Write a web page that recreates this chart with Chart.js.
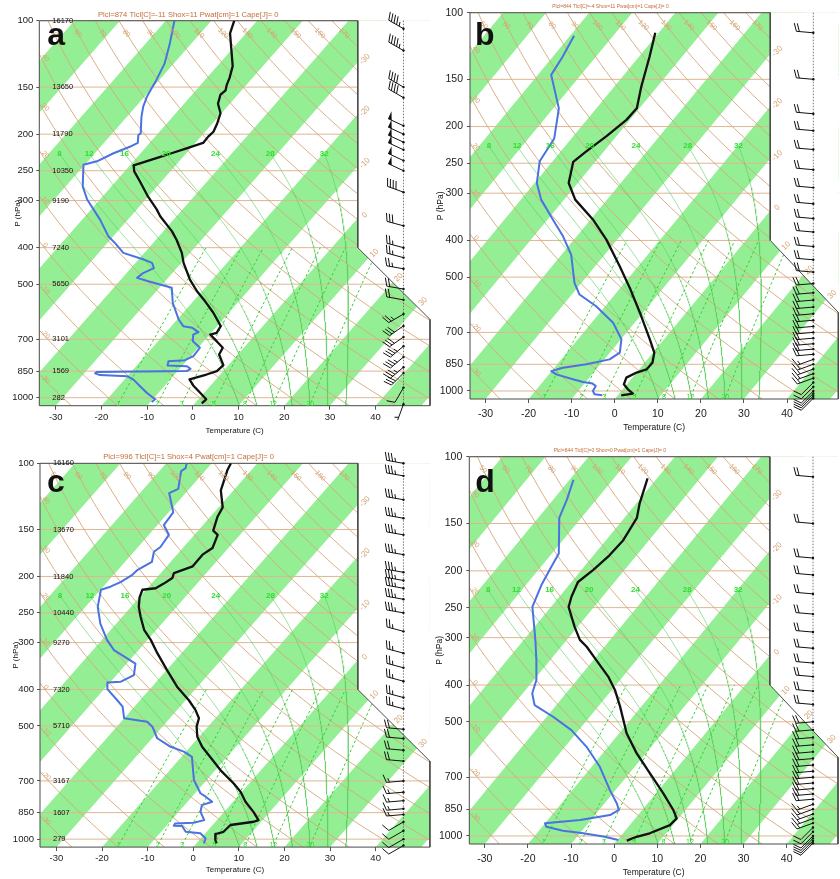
<!DOCTYPE html>
<html>
<head>
<meta charset="utf-8">
<title>Skew-T soundings</title>
<script src="https://cdn.jsdelivr.net/npm/chart.js@4.4.1/dist/chart.umd.min.js"></script>
<style>
  body { margin: 0; background: #fff; }
  #wrap { position: relative; width: 840px; height: 879px; overflow: hidden; background: #fff; }
  #wrap canvas { position: absolute; }
</style>
</head>
<body>
<div id="wrap">
  <canvas id="skewA" width="440" height="440" style="left:0;top:0"></canvas>
  <canvas id="skewB" width="420" height="440" style="left:420px;top:0"></canvas>
  <canvas id="skewC" width="440" height="439" style="left:0;top:440px"></canvas>
  <canvas id="skewD" width="420" height="439" style="left:420px;top:440px"></canvas>
</div>
<script>
// sounding a
var presTempA = [100,108,132,142,148,153,157,166,176,187,197,203,211,218,224,231,239,242,251,267,293,317,330,362,381,413,439,486,522,555,595,646,673,680,708,737,768,820,850,868,894,928,970,1010,1035];
var tempA = [-65.0,-63.5,-56.6,-55.0,-54.3,-53.5,-53.8,-52.6,-50.2,-49.0,-48.2,-48.4,-48.3,-50.9,-53.0,-55.5,-58.2,-59.2,-57.9,-54.7,-50.0,-45.6,-43.6,-38.1,-35.5,-31.8,-29.5,-24.9,-21.1,-17.4,-13.4,-9.2,-8.8,-9.9,-7.2,-4.6,-4.1,-1.1,-1.4,-3.0,-5.8,-3.8,-0.9,1.7,1.5];
var presDewA = [100,115,130,144,151,159,169,180,199,201,211,216,225,236,241,275,298,337,373,389,413,430,439,453,467,481,491,511,560,620,646,652,670,680,708,737,776,795,800,821,825,838,850,855,862,871,877,894,932,970,1010,1027];
var dewA = [-78.1,-74.7,-72.0,-70.6,-70.1,-69.5,-68.4,-66.8,-63.8,-64.0,-62.6,-63.6,-66.0,-68.0,-70.3,-66.3,-62.8,-56.1,-51.1,-48.3,-44.6,-38.9,-36.4,-35.0,-36.4,-36.8,-33.7,-27.3,-24.2,-19.7,-17.4,-15.2,-12.9,-13.6,-12.4,-9.6,-9.4,-10.5,-13.9,-13.3,-8.9,-7.6,-8.0,-27.5,-27.6,-26.2,-20.1,-18.1,-15.3,-12.6,-9.5,-9.7];

// sounding b
var presTempB = [113,131,157,179,192,212,233,248,282,312,352,398,468,534,621,730,792,842,877,894,922,960,990,1016,1027];
var tempB = [-60.8,-57.5,-53.7,-50.6,-50.8,-52.3,-54.1,-55.1,-52.1,-47.4,-39.5,-32.5,-24.3,-17.8,-10.7,-3.3,0.3,1.8,1.7,0.0,-1.4,-0.7,1.2,3.2,0.8];
var presDewB = [115,131,146,179,215,247,282,312,352,390,436,518,556,597,660,730,792,825,850,868,886,904,931,947,956,970,1000,1020,1027];
var dewB = [-79.1,-77.7,-76.9,-68.7,-64.0,-63.0,-59.5,-55.3,-48.8,-43.2,-37.8,-31.6,-28.2,-22.1,-15.0,-9.9,-7.7,-8.8,-13.2,-18.0,-20.1,-18.3,-13.5,-10.6,-8.1,-6.9,-6.6,-5.6,-3.6];

// sounding c
var presTempC = [100,104,118,131,139,151,155,168,175,188,196,202,209,215,217,227,241,256,278,295,320,355,393,427,453,477,502,534,568,597,655,711,748,795,846,890,899,917,956,969,1006,1026];
var tempC = [-65.8,-65.3,-62.8,-59.1,-58.4,-56.7,-54.9,-53.5,-54.4,-54.3,-57.1,-56.5,-57.3,-58.2,-60.8,-60.0,-58.3,-56.0,-52.6,-49.3,-45.3,-39.9,-34.5,-29.3,-26.0,-23.6,-22.5,-20.4,-17.4,-14.4,-8.9,-3.4,-0.3,2.7,6.4,9.1,8.4,3.9,3.7,2.4,3.5,4.4];
var presDewC = [100,103,105,117,120,135,146,155,167,172,183,192,198,207,213,217,241,267,295,314,341,366,381,383,399,427,444,477,487,502,539,568,585,604,696,755,771,795,812,846,890,905,908,921,923,956,965,995,1026];
var dewC = [-75.5,-74.8,-75.2,-72.4,-73.6,-69.0,-68.6,-65.6,-65.1,-65.6,-64.1,-65.7,-65.9,-67.1,-68.4,-69.9,-67.3,-63.5,-58.9,-55.4,-48.1,-46.2,-47.8,-50.6,-49.3,-45.0,-42.6,-40.0,-34.3,-32.2,-28.9,-24.3,-20.5,-17.7,-12.8,-8.8,-7.0,-4.6,-6.2,-5.2,-2.8,-4.6,-8.5,-8.4,-6.5,-4.6,-1.1,1.0,1.6];

// sounding d
var presTempD = [114,133,145,166,182,199,214,234,249,281,304,317,344,380,412,456,536,606,684,772,854,899,936,984,1005,1029];
var tempD = [-62.2,-59.2,-57.1,-56.0,-56.3,-57.3,-58.5,-57.2,-55.9,-50.7,-47.0,-44.1,-39.3,-33.4,-29.3,-24.9,-18.3,-12.1,-5.2,1.7,7.2,9.6,9.3,6.2,3.8,2.3];
var presDewD = [115,130,145,180,195,218,249,306,344,388,421,452,485,526,582,657,757,820,854,881,908,926,946,969,984,1005,1025];
var dewD = [-79.1,-76.8,-75.1,-68.4,-67.6,-66.4,-64.3,-57.1,-53.2,-49.4,-47.8,-45.0,-38.5,-31.7,-25.0,-18.1,-11.3,-7.2,-5.4,-6.5,-12.5,-20.0,-19.0,-14.4,-9.2,-3.6,0.2];

// geopotential heights (m) at the mandatory levels
var heightLevels = [100, 150, 200, 250, 300, 400, 500, 700, 850, 1000];
var heightsA = [16170, 13650, 11790, 10350, 9190, 7240, 5650, 3101, 1569, 282];
var heightsC = [16160, 13670, 11840, 10440, 9270, 7320, 5710, 3167, 1607, 279];

// winds: pressure (hPa), direction (deg), speed (kt)
var barbPresA = [105,120,150,160,190,200,210,220,235,250,285,350,400,425,455,515,550,600,645,690,730,780,830,860,940,1040];
var barbDirA = [300,300,300,300,295,295,295,295,295,295,290,285,285,285,280,280,280,240,235,235,230,230,230,225,210,200];
var barbSpdA = [45,45,40,40,50,50,50,50,50,50,40,30,25,25,25,20,20,25,30,30,35,35,35,30,10,5];
var barbPresB = [113,150,185,205,230,260,290,320,350,380,415,450,485,520,550,575,600,625,650,675,700,725,750,775,800,825,850,875,900,925,950,975,1000,1015,1030,1045];
var barbDirB = [275,275,275,275,275,275,275,275,275,275,275,275,275,265,265,265,265,265,265,265,265,265,265,265,265,250,250,250,250,250,225,225,225,225,225,225];
var barbSpdB = [20,20,20,20,20,20,20,20,20,20,20,20,20,20,20,20,20,20,20,20,20,20,20,20,20,15,15,15,15,15,10,10,10,10,10,10];
var barbPresC = [100,108,125,140,155,175,195,205,215,230,250,280,320,350,380,420,450,510,540,580,620,700,750,790,830,860,900,950,1000,1040];
var barbDirC = [280,280,280,280,280,280,280,280,280,280,280,285,285,285,285,285,285,275,275,275,275,265,265,265,265,265,240,240,240,240];
var barbSpdC = [35,35,35,35,35,35,35,35,35,35,35,25,25,25,25,25,25,20,20,20,20,15,15,15,15,15,10,10,10,10];
var barbPresD = [113,150,185,205,230,260,290,320,350,380,415,450,500,525,550,575,600,625,650,675,700,725,750,775,800,825,850,875,900,925,950,975,1000,1015,1030,1045];
var barbDirD = [275,275,275,275,275,275,275,275,275,275,275,275,265,265,265,265,265,265,265,265,265,265,265,265,265,250,250,250,250,250,225,225,225,225,225,225];
var barbSpdD = [20,20,20,20,20,20,20,20,20,20,20,20,20,20,20,20,20,20,20,20,20,20,20,20,20,15,15,15,15,15,10,10,10,10,10,10];

var titleA = 'Plcl=874 Tlcl[C]=-11 Shox=11 Pwat[cm]=1 Cape[J]= 0';
var titleB = 'Plcl=844 Tlcl[C]=-4 Shox=11 Pwat[cm]=1 Cape[J]= 0';
var titleC = 'Plcl=996 Tlcl[C]=1 Shox=4 Pwat[cm]=1 Cape[J]= 0';
var titleD = 'Plcl=844 Tlcl[C]=0 Shox=0 Pwat[cm]=1 Cape[J]= 0';

// diagram furniture
var ISOBARS = [100, 150, 200, 250, 300, 400, 500, 700, 850, 1000];
var X_TICKS = [-30, -20, -10, 0, 10, 20, 30, 40];
var THETA_W = [8, 12, 16, 20, 24, 28, 32];
var MIX_RATIOS = [1, 2, 3, 5, 8, 12, 20];
var THETAS = [];
for (var th = -40; th <= 200; th += 10) THETAS.push(th);

var PBOT = 1050, PTOP = 100, SKEW = 31.5;
var X_MIN = -33.6, X_MAX = 51.9, X_EDGE = 36.1, P_EDGE = 400, P_CORNER = 620, BARB_X = 46.1;
var FONT = '"Liberation Sans", Arial, sans-serif';

var BAND_GREEN = '#94ef94';
var TAN = 'rgb(212,168,124)';
var ISOBAR_TAN = 'rgb(222,182,145)';
var MOIST_GREEN = 'rgba(90,205,90,0.75)';
var MIX_GREEN = '#33cc33';

Chart.defaults.font.family = FONT;

function skewX(t, p) { return t + SKEW * Math.log(PBOT / p); }

function dryT(theta, p) { return (theta + 273.15) * Math.pow(p / 1000, 0.2857) - 273.15; }

function dewFromMix(w, p) {
  var e = w * p / (622 + w), l = Math.log(e / 6.112);
  return 243.5 * l / (17.67 - l);
}

function moistRate(t, p) {
  var tk = t + 273.15;
  var es = 6.112 * Math.exp(17.67 * t / (t + 243.5));
  var rs = 0.622 * es / (p - es);
  return (287 * tk + 2.5e6 * rs) / (p * (1004 + 2.5e6 * 2.5e6 * rs * 0.622 / (287 * tk * tk)));
}

// saturated adiabat starting at 1000 hPa, integrated up to 225 hPa and down past the ground
function moistLine(thw) {
  var pts = [], t = thw, p, k;
  for (p = 1000; p > 225; p -= 5) {
    pts.push({p: p, t: t});
    k = moistRate(t - 2.5 * moistRate(t, p), p - 2.5);
    t -= 5 * k;
  }
  pts.push({p: 225, t: t});
  pts.reverse();
  t = thw;
  for (p = 1000; p < 1060; p += 5) {
    k = moistRate(t + 2.5 * moistRate(t, p), p + 2.5);
    t += 5 * k;
    pts.push({p: p + 5, t: t});
  }
  return pts;
}
var moistLines = THETA_W.map(moistLine);

function line(pts, opts) {
  var ds = {data: pts.map(function (q) { return {x: q[0], y: q[1]}; }), showLine: true, pointRadius: 0, tension: 0, fill: false};
  return Object.assign(ds, opts);
}

function profile(pres, vals) {
  return pres.map(function (p, i) { return [skewX(vals[i], p), p]; });
}

function buildDatasets(tp, tv, dp, dv) {
  var sets = [], t, i;
  // alternating 10 C isotherm bands
  for (t = -100; t <= 40; t += 20) {
    sets.push(line([[skewX(t, 1100), 1100], [skewX(t, 90), 90], [skewX(t + 10, 90), 90], [skewX(t + 10, 1100), 1100]],
      {fill: 'shape', backgroundColor: BAND_GREEN, borderWidth: 0, order: 20}));
  }
  ISOBARS.forEach(function (p) {
    sets.push(line([[-60, p], [80, p]], {borderColor: ISOBAR_TAN, borderWidth: 1, order: 19}));
  });
  var plist = [];
  for (i = 0; i <= 40; i++) plist.push(PTOP * Math.pow(PBOT / PTOP, i / 40));
  THETAS.forEach(function (thv) {
    sets.push(line(plist.map(function (p) { return [skewX(dryT(thv, p), p), p]; }),
      {borderColor: TAN, borderWidth: 0.9, order: 18}));
  });
  moistLines.forEach(function (ml) {
    sets.push(line(ml.map(function (q) { return [skewX(q.t, q.p), q.p]; }),
      {borderColor: MOIST_GREEN, borderWidth: 0.8, order: 17}));
  });
  MIX_RATIOS.forEach(function (w) {
    var pts = [];
    for (var p = 1060; p >= 400; p -= 20) pts.push([skewX(dewFromMix(w, p), p), p]);
    sets.push(line(pts, {borderColor: MIX_GREEN, borderWidth: 1, borderDash: [2.5, 2.5], order: 16}));
  });
  // blank out the wind column above the sloping corner
  sets.push(line([[X_EDGE, 90], [X_EDGE, P_EDGE], [X_MAX, P_CORNER], [X_MAX + 5, P_CORNER], [X_MAX + 5, 90]],
    {fill: 'shape', backgroundColor: '#fff', borderWidth: 0, order: 6}));
  sets.push(line([[X_MIN, PTOP], [X_EDGE, PTOP], [X_EDGE, P_EDGE], [X_MAX, P_CORNER], [X_MAX, PBOT], [X_MIN, PBOT], [X_MIN, PTOP]],
    {borderColor: '#4a4a4a', borderWidth: 1, clip: false, order: 5}));
  sets.push(line(profile(dp, dv), {borderColor: '#4a72e0', borderWidth: 2, borderJoinStyle: 'round', order: 2}));
  sets.push(line(profile(tp, tv), {borderColor: '#111', borderWidth: 2.3, borderJoinStyle: 'round', order: 1}));
  return sets;
}

function drawBarb(ctx, x, y, dir, spd) {
  var r = dir * Math.PI / 180, len = 17, fl = 8;
  var ux = Math.sin(r), uy = -Math.cos(r);
  var vx = Math.sin(r + Math.PI / 2), vy = -Math.cos(r + Math.PI / 2);
  var tx = x + ux * len, ty = y + uy * len, d = 0, s = Math.round(spd / 5) * 5;
  ctx.beginPath(); ctx.moveTo(x, y); ctx.lineTo(tx, ty); ctx.stroke();
  ctx.beginPath(); ctx.arc(x, y, 1.2, 0, 2 * Math.PI); ctx.fill();
  function feather(l) {
    var bx = tx - ux * d, by = ty - uy * d;
    ctx.beginPath(); ctx.moveTo(bx, by);
    ctx.lineTo(bx + vx * l + ux * l * 0.35, by + vy * l + uy * l * 0.35);
    ctx.stroke();
  }
  while (s >= 50) {
    ctx.beginPath();
    ctx.moveTo(tx - ux * d, ty - uy * d);
    ctx.lineTo(tx - ux * d + vx * fl, ty - uy * d + vy * fl);
    ctx.lineTo(tx - ux * (d + 4), ty - uy * (d + 4));
    ctx.closePath(); ctx.fill();
    d += 5; s -= 50;
  }
  while (s >= 10) { feather(fl); d += 3; s -= 10; }
  if (s >= 5) { if (d === 0) d = 3; feather(fl / 2); }
}

var decor = {
  id: 'decor',
  afterDatasetsDraw: function (chart, args, o) {
    var ctx = chart.ctx, sx = chart.scales.x, sy = chart.scales.y, a = chart.chartArea;
    var X = function (v) { return sx.getPixelForValue(v); };
    var Y = function (p) { return sy.getPixelForValue(p); };
    function label(x, y, txt, rot) {
      ctx.save(); ctx.translate(x, y); ctx.rotate(rot); ctx.fillText(txt, 0, 0); ctx.restore();
    }
    ctx.save();
    ctx.textAlign = 'center';
    ctx.textBaseline = 'middle';

    // saturated adiabat labels
    ctx.fillStyle = '#2edc2e';
    ctx.font = 'bold 8px ' + FONT;
    moistLines.forEach(function (ml, i) {
      ctx.fillText(String(THETA_W[i]), X(skewX(ml[0].t, ml[0].p)), Y(ml[0].p));
    });

    // mixing ratio labels near the ground
    ctx.font = '7px ' + FONT;
    MIX_RATIOS.forEach(function (w) {
      ctx.fillText(String(w), X(skewX(dewFromMix(w, 1040), 1040)), Y(1040));
    });

    // dry adiabat labels on the top and left edges
    ctx.fillStyle = 'rgb(214,160,110)';
    ctx.font = '7px ' + FONT;
    THETAS.forEach(function (thv) {
      if (skewX(dryT(thv, PTOP), PTOP) > X_MIN) {
        var xv = skewX(dryT(thv, 108), 108);
        if (xv < X_EDGE - 1.5 && xv > X_MIN + 1) label(X(xv), Y(108), String(thv), Math.PI / 4);
        return;
      }
      if (skewX(dryT(thv, PBOT), PBOT) < X_MIN) return;
      var lo = PTOP, hi = PBOT;
      for (var k = 0; k < 30; k++) {
        var mid = Math.sqrt(lo * hi);
        if (skewX(dryT(thv, mid), mid) < X_MIN) lo = mid; else hi = mid;
      }
      if (hi < 1000) label(a.left + 6, Y(hi) + 4, String(thv), Math.PI / 4);
    });

    // isotherm labels along the right edge
    ctx.font = '8px ' + FONT;
    [-30, -20, -10, 0].forEach(function (t) {
      var p = PBOT / Math.exp((X_EDGE - t) / SKEW);
      label(X(X_EDGE) + 7, Y(p) - 3, String(t), -Math.PI / 4);
    });
    var x0 = X(X_EDGE), y0 = Y(P_EDGE), x1 = X(X_MAX), y1 = Y(P_CORNER);
    [10, 20, 30].forEach(function (t) {
      var lo = 0, hi = 1;
      for (var k = 0; k < 30; k++) {
        var f = (lo + hi) / 2, yy = y0 + (y1 - y0) * f;
        var diff = X(skewX(t, sy.getValueForPixel(yy))) - (x0 + (x1 - x0) * f);
        if (diff > 0) lo = f; else hi = f;
      }
      label(x0 + (x1 - x0) * lo + 6, y0 + (y1 - y0) * lo - 5, String(t), -Math.PI / 4);
    });

    // heights of the mandatory levels
    if (o.heights) {
      ctx.fillStyle = '#111';
      ctx.font = '7.5px ' + FONT;
      ctx.textAlign = 'left';
      heightLevels.forEach(function (p, i) { ctx.fillText(String(o.heights[i]), a.left + 13, Y(p)); });
    }

    // wind column
    var bx = X(BARB_X);
    ctx.strokeStyle = '#555';
    ctx.lineWidth = 0.8;
    ctx.setLineDash([1.5, 1.5]);
    ctx.beginPath(); ctx.moveTo(bx, Y(PTOP)); ctx.lineTo(bx, Y(PBOT)); ctx.stroke();
    ctx.setLineDash([]);
    ctx.strokeStyle = '#111';
    ctx.fillStyle = '#111';
    ctx.lineWidth = 1;
    o.barbPres.forEach(function (p, i) { drawBarb(ctx, bx, Y(p), o.barbDir[i], o.barbSpd[i]); });

    // parcel summary above the frame
    ctx.textAlign = 'center';
    ctx.fillStyle = '#c46c3a';
    ctx.font = o.titleSize + 'px ' + FONT;
    ctx.fillText(o.title, X(-1), a.top - 6);

    // axis titles
    ctx.fillStyle = '#111';
    ctx.font = o.axisSize + 'px ' + FONT;
    ctx.fillText('Temperature (C)', (a.left + a.right) / 2, a.bottom + o.xTitleGap);
    label(o.yTitleX, (a.top + a.bottom) / 2, 'P (hPa)', -Math.PI / 2);

    // panel letter
    ctx.textAlign = 'left';
    ctx.textBaseline = 'alphabetic';
    ctx.font = 'bold 32px ' + FONT;
    ctx.fillText(o.letter, a.left + o.letterDx, a.top + o.letterDy);
    ctx.restore();
  }
};

var panels = [
  {id: 'skewA', w: 440, h: 440, area: {l: 39.3, t: 20.7, r: 430, b: 405.7}, tick: 9.5, xPad: 2, yPad: 3,
   tp: presTempA, tv: tempA, dp: presDewA, dv: dewA, heights: heightsA, title: titleA, titleSize: 7.6,
   barbPres: barbPresA, barbDir: barbDirA, barbSpd: barbSpdA, letter: 'a', letterDx: 8, letterDy: 24,
   axisSize: 8, xTitleGap: 25, yTitleX: 18},
  {id: 'skewB', w: 420, h: 440, area: {l: 50, t: 12.7, r: 418.3, b: 399}, tick: 10.5, xPad: 5, yPad: 4,
   tp: presTempB, tv: tempB, dp: presDewB, dv: dewB, heights: null, title: titleB, titleSize: 5,
   barbPres: barbPresB, barbDir: barbDirB, barbSpd: barbSpdB, letter: 'b', letterDx: 5, letterDy: 32,
   axisSize: 8.5, xTitleGap: 29, yTitleX: 21},
  {id: 'skewC', w: 440, h: 439, area: {l: 40, t: 23.3, r: 429.9, b: 407.1}, tick: 9.5, xPad: 2, yPad: 3,
   tp: presTempC, tv: tempC, dp: presDewC, dv: dewC, heights: heightsC, title: titleC, titleSize: 7.6,
   barbPres: barbPresC, barbDir: barbDirC, barbSpd: barbSpdC, letter: 'c', letterDx: 7, letterDy: 29,
   axisSize: 8, xTitleGap: 23, yTitleX: 16},
  {id: 'skewD', w: 420, h: 439, area: {l: 49.3, t: 16.7, r: 418, b: 404}, tick: 10.5, xPad: 5, yPad: 4,
   tp: presTempD, tv: tempD, dp: presDewD, dv: dewD, heights: null, title: titleD, titleSize: 5,
   barbPres: barbPresD, barbDir: barbDirD, barbSpd: barbSpdD, letter: 'd', letterDx: 6, letterDy: 35,
   axisSize: 8.5, xTitleGap: 29, yTitleX: 20}
];

var XAXIS_H = 30;

panels.forEach(function (pn) {
  var ctx = document.getElementById(pn.id).getContext('2d');
  new Chart(ctx, {
    type: 'scatter',
    data: {datasets: buildDatasets(pn.tp, pn.tv, pn.dp, pn.dv)},
    plugins: [decor],
    options: {
      responsive: false,
      animation: false,
      events: [],
      layout: {padding: {left: 0, top: pn.area.t, right: pn.w - pn.area.r, bottom: pn.h - pn.area.b - XAXIS_H}},
      plugins: {
        legend: {display: false},
        tooltip: {enabled: false},
        decor: {
          heights: pn.heights, title: pn.title, titleSize: pn.titleSize,
          barbPres: pn.barbPres, barbDir: pn.barbDir, barbSpd: pn.barbSpd,
          letter: pn.letter, letterDx: pn.letterDx, letterDy: pn.letterDy,
          axisSize: pn.axisSize, xTitleGap: pn.xTitleGap, yTitleX: pn.yTitleX
        }
      },
      scales: {
        x: {
          type: 'linear', min: X_MIN, max: X_MAX,
          afterFit: function (s) { s.height = XAXIS_H; },
          afterBuildTicks: function (s) { s.ticks = X_TICKS.map(function (v) { return {value: v}; }); },
          border: {display: false},
          grid: {display: true, drawOnChartArea: false, drawTicks: true, tickLength: 4, color: '#555'},
          ticks: {autoSkip: false, maxRotation: 0, padding: pn.xPad, color: '#222', font: {size: pn.tick},
                  callback: function (v) { return String(v); }}
        },
        y: {
          type: 'logarithmic', reverse: true, min: PTOP, max: PBOT,
          afterFit: function (s) { s.width = pn.area.l; },
          afterBuildTicks: function (s) { s.ticks = ISOBARS.map(function (v) { return {value: v}; }); },
          border: {display: false},
          grid: {display: true, drawOnChartArea: false, drawTicks: true, tickLength: 3, color: '#555'},
          ticks: {autoSkip: false, padding: pn.yPad, color: '#222', font: {size: pn.tick},
                  callback: function (v) { return String(v); }}
        }
      }
    }
  });
});
</script>
</body>
</html>
